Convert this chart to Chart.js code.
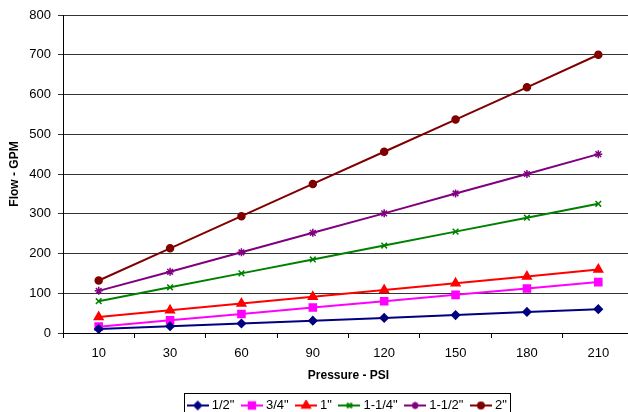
<!DOCTYPE html>
<html>
<head>
<meta charset="utf-8">
<script src="https://cdn.jsdelivr.net/npm/chart.js@4.4.0/dist/chart.umd.min.js"></script>
<style>
    html, body { margin: 0; padding: 0; background: #fff; overflow: hidden; }
    #wrap { position: absolute; left: 0; top: 0; width: 634px; height: 422px; }
    #flow-chart { width: 634px; height: 422px; }
</style>
</head>
<body>
<div id="wrap"><canvas id="flow-chart" width="634" height="422"></canvas></div>
<script>
// Chart data
const pressures = ['10', '30', '60', '90', '120', '150', '180', '210'];
const sizes = ['1/2"', '3/4"', '1"', '1-1/4"', '1-1/2"', '2"'];
const flowHalf = [10, 17, 24, 31, 38, 45, 53, 60];
const flowThreeQuarter = [16, 32, 48, 64, 80, 96, 112, 128];
const flowOne = [40, 57, 74, 91, 108, 125, 142, 160];
const flowOneQuarter = [80, 115, 150, 185, 220, 255, 290, 325];
const flowOneHalf = [106, 154, 203, 252, 301, 351, 400, 450];
const flowTwo = [132, 213, 294, 375, 456, 537, 618, 700];
const yTicks = [0, 100, 200, 300, 400, 500, 600, 700, 800];

const seriesValues = [flowHalf, flowThreeQuarter, flowOne, flowOneQuarter, flowOneHalf, flowTwo];
const seriesColors = ['#000080', '#FF00FF', '#FF0000', '#008000', '#800080', '#800000'];
const seriesMarkers = ['rectRot', 'rect', 'triangle', 'crossRot', 'star', 'circle'];
const markerRadius = [4, 5, 5, 4, 4, 3.5];

Chart.defaults.font.family = "'Liberation Sans', Arial, sans-serif";
Chart.defaults.color = '#000';

// small line + marker swatch for the legend
const makeSwatch = (color, marker, radius) => {
    const c = document.createElement('canvas');
    c.width = 22;
    c.height = 12;
    const g = c.getContext('2d');
    g.strokeStyle = color;
    g.fillStyle = color;
    g.lineWidth = 2;
    g.beginPath();
    g.moveTo(0, 6);
    g.lineTo(22, 6);
    g.stroke();
    Chart.helpers.drawPoint(g, {
        pointStyle: marker,
        radius: radius,
        borderWidth: 1.5,
        rotation: 0
    }, 11, 6);
    return c;
};

const swatches = sizes.map((s, i) => makeSwatch(seriesColors[i], seriesMarkers[i], markerRadius[i] - 0.5));

// thin frame round the legend, like the spreadsheet original
const legendFrame = {
    id: 'legendFrame',
    afterDraw(chart) {
        const boxes = chart.legend.legendHitBoxes;
        if (!boxes || !boxes.length) return;
        const left = Math.min(...boxes.map(b => b.left)) - 6;
        const right = Math.max(...boxes.map(b => b.left + b.width)) + 3;
        const top = boxes[0].top - 6;
        const ctx = chart.ctx;
        ctx.save();
        ctx.strokeStyle = '#000';
        ctx.lineWidth = 1;
        ctx.strokeRect(Math.round(left) + 0.5, Math.round(top) + 0.5, Math.round(right - left), 40);
        ctx.restore();
    }
};

const datasets = sizes.map((label, i) => ({
    label: label,
    data: seriesValues[i],
    borderColor: seriesColors[i],
    backgroundColor: seriesColors[i],
    pointBackgroundColor: seriesColors[i],
    pointBorderColor: seriesColors[i],
    pointStyle: seriesMarkers[i],
    pointRadius: markerRadius[i],
    pointBorderWidth: 1.5,
    borderWidth: 2,
    tension: 0,
    fill: false
}));

const ctx = document.getElementById('flow-chart').getContext('2d');
new Chart(ctx, {
    type: 'line',
    data: { labels: pressures, datasets: datasets },
    plugins: [legendFrame],
    options: {
        responsive: false,
        animation: false,
        layout: { autoPadding: false, padding: { top: 15, right: 0, left: 0, bottom: 0 } },
        scales: {
            x: {
                offset: true,
                grid: {
                    offset: true,
                    drawOnChartArea: false,
                    color: '#000',
                    tickLength: 5
                },
                border: { color: '#000', width: 1 },
                ticks: { font: { size: 13 }, padding: 8, maxRotation: 0 },
                title: {
                    display: true,
                    text: 'Pressure - PSI',
                    font: { size: 12, weight: 'bold' },
                    padding: { top: 4, bottom: 6 }
                },
                afterFit(scale) { scale.height = 56; }
            },
            y: {
                min: 0,
                max: 800,
                afterBuildTicks(scale) { scale.ticks = yTicks.map(v => ({ value: v })); },
                grid: { color: '#333', tickLength: 5 },
                border: { color: '#000', width: 1 },
                ticks: { font: { size: 13 }, padding: 7 },
                title: {
                    display: true,
                    text: 'Flow - GPM',
                    font: { size: 12, weight: 'bold' },
                    padding: { top: 7, bottom: 4 }
                },
                afterFit(scale) { scale.width = 63; }
            }
        },
        plugins: {
            tooltip: { enabled: false },
            legend: {
                position: 'bottom',
                fullSize: false,
                labels: {
                    usePointStyle: true,
                    pointStyleWidth: 15,
                    font: { size: 13 },
                    padding: 10,
                    color: '#000',
                    generateLabels(chart) {
                        return chart.data.datasets.map((ds, i) => ({
                            text: ds.label,
                            pointStyle: swatches[i],
                            fillStyle: seriesColors[i],
                            strokeStyle: seriesColors[i],
                            lineWidth: 0,
                            hidden: false,
                            datasetIndex: i
                        }));
                    }
                }
            }
        }
    }
});
</script>
</body>
</html>
